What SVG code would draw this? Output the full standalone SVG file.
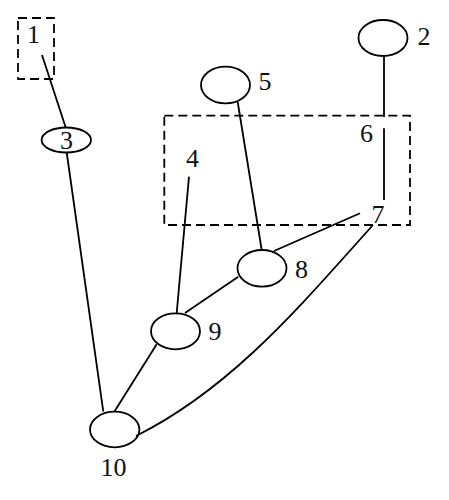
<svg xmlns="http://www.w3.org/2000/svg" width="449" height="500" viewBox="0 0 449 500">
<style>
.n{fill:none;stroke:#000;stroke-width:1.8}
.b{fill:none;stroke:#000;stroke-width:1.8;stroke-dasharray:9 5}
.e{fill:none;stroke:#000;stroke-width:1.8}
.t{font-family:"Liberation Serif","Times New Roman",serif;font-size:26px;fill:#111;text-anchor:middle}
</style>
<rect width="449" height="500" fill="#fff"/>
<g id="connectors">
<line class="e" x1="42" y1="55" x2="65.7" y2="127.5"/>
<line class="e" x1="66.7" y1="152.5" x2="103.3" y2="411.7"/>
<line class="e" x1="384" y1="56" x2="384" y2="117"/>
<line class="e" x1="384" y1="128.3" x2="384" y2="200"/>
<line class="e" x1="237.7" y1="102" x2="261.7" y2="250"/>
<line class="e" x1="189" y1="176.7" x2="176.7" y2="313"/>
<line class="e" x1="360" y1="213.3" x2="274" y2="251"/>
<line class="e" x1="238.3" y1="276.7" x2="185" y2="313"/>
<line class="e" x1="156.7" y1="344.3" x2="114.3" y2="411.7"/>
<path class="e" d="M136,436 C232.7,387.7 302.2,303.6 373,225"/>
</g>
<g id="group-box">
<rect class="b" x="164.3" y="115.7" width="245.7" height="109.3"/>
</g>
<g id="node1">
<rect class="b" x="18" y="18" width="36" height="61"/>
<text class="t" x="33.5" y="43">1</text>
</g>
<g id="node2">
<ellipse class="n" cx="383" cy="38" rx="24.5" ry="18"/>
<text class="t" x="424" y="45">2</text>
</g>
<g id="node3">
<ellipse class="n" cx="66.3" cy="140" rx="24.7" ry="12.5"/>
<text class="t" x="66.5" y="149">3</text>
</g>
<g id="node4">
<text class="t" x="192.5" y="166.7">4</text>
</g>
<g id="node5">
<ellipse class="n" cx="225.5" cy="85" rx="24.5" ry="18.3"/>
<text class="t" x="265" y="89.5">5</text>
</g>
<g id="node6">
<text class="t" x="366.5" y="141.7">6</text>
</g>
<g id="node7">
<text class="t" x="378" y="223">7</text>
</g>
<g id="node8">
<ellipse class="n" cx="262" cy="268.3" rx="24.5" ry="18.3"/>
<text class="t" x="301.5" y="278">8</text>
</g>
<g id="node9">
<ellipse class="n" cx="175.5" cy="331.3" rx="24.5" ry="18"/>
<text class="t" x="215" y="340">9</text>
</g>
<g id="node10">
<ellipse class="n" cx="114.7" cy="429.5" rx="24.7" ry="17.8"/>
<text class="t" x="113.5" y="476">10</text>
</g>
</svg>
